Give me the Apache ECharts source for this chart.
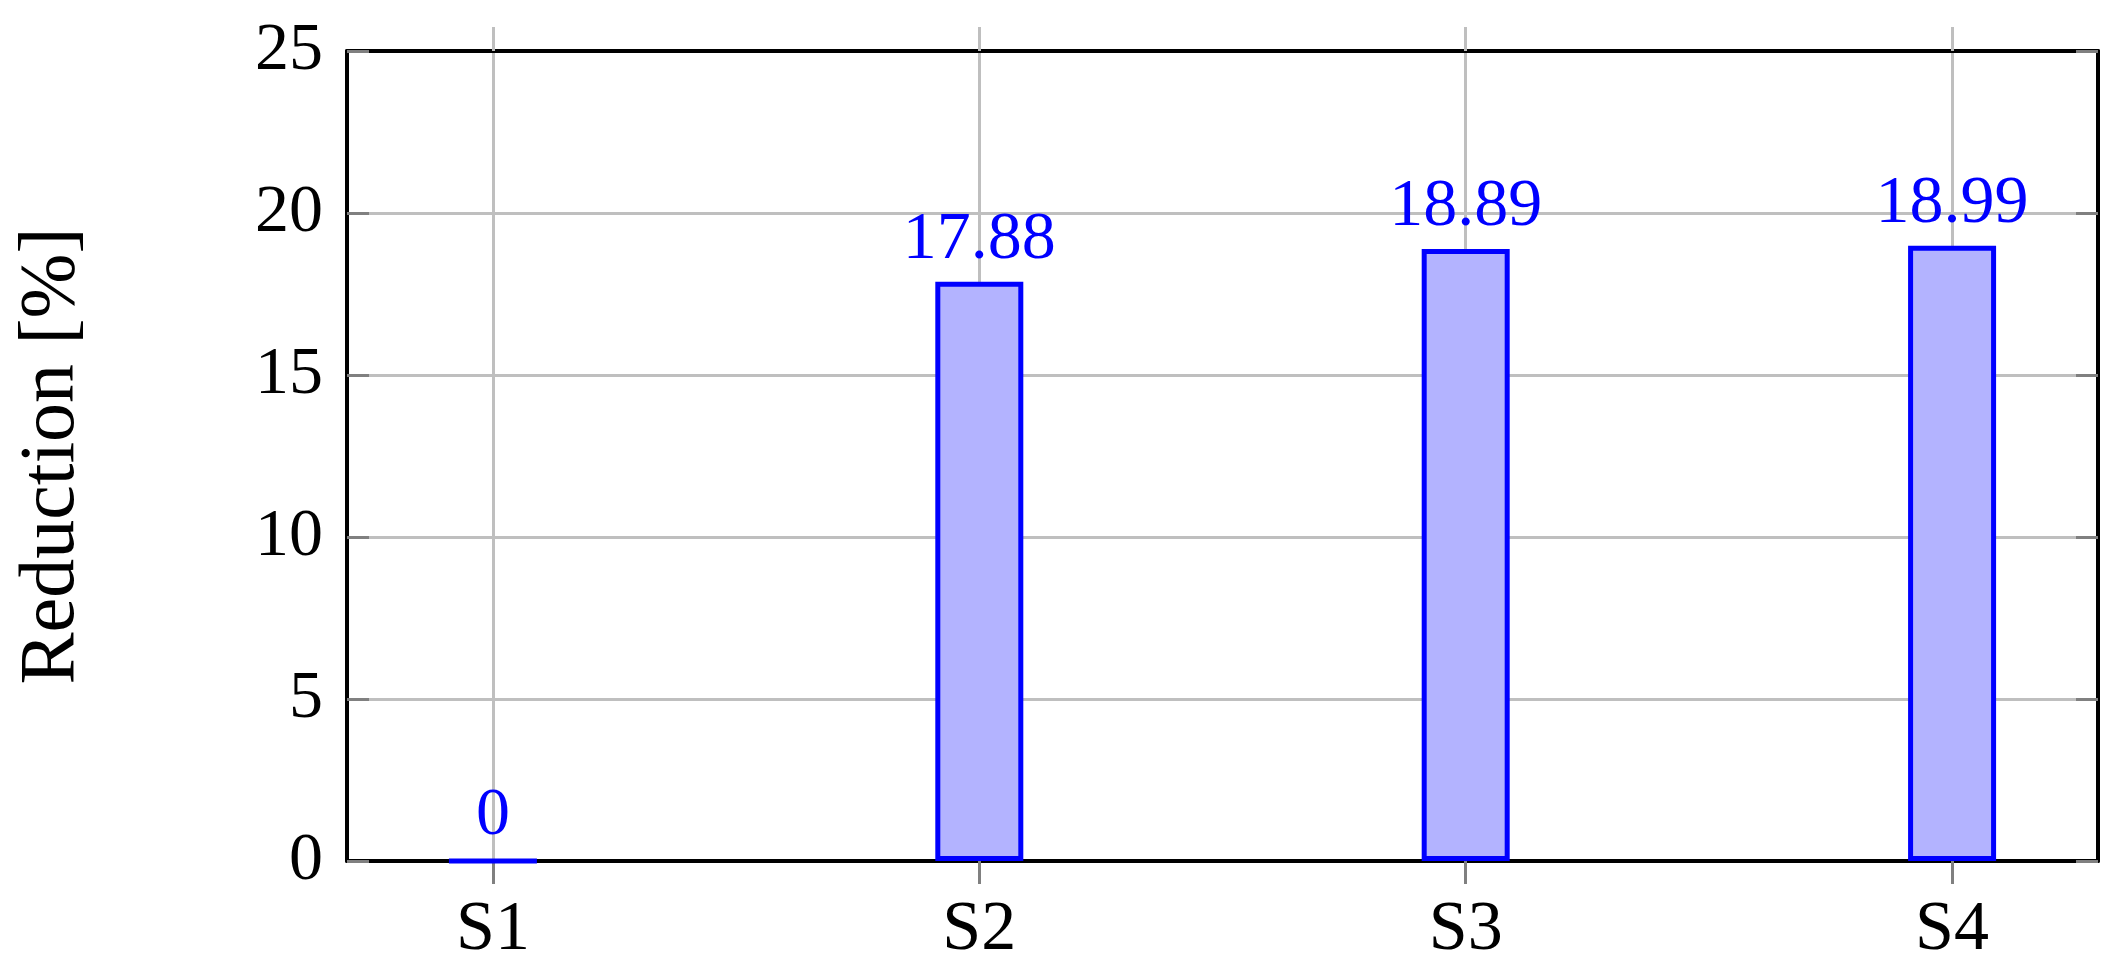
<!DOCTYPE html>
<html><head><meta charset="utf-8">
<script src="https://cdn.jsdelivr.net/npm/echarts@6/dist/echarts.min.js"></script>
<style>html,body{margin:0;padding:0;background:#fff}#c{width:2115px;height:978px}</style>
</head><body><div id="c"></div>
<script>
const categories = ['S1', 'S2', 'S3', 'S4'];
const values = [0, 17.88, 18.89, 18.99];
const yMin = 0, yMax = 25, yStep = 5;
const yName = 'Reduction [%]';

const FONT = 'Liberation Serif';
const positions = categories.map((c, i) => i);
const chart = echarts.init(document.getElementById('c'), null, {renderer: 'canvas'});
const gridColor = '#bfbfbf';
const tickColor = '#808080';
chart.setOption({
  animation: false,
  backgroundColor: '#ffffff',
  grid: {left: 347, right: 17, top: 51, bottom: 117, containLabel: false},
  xAxis: [{
    type: 'value', position: 'bottom', min: -0.3, max: 3.3,
    axisLine: {show: true, onZero: false, lineStyle: {color: '#000', width: 4}},
    axisTick: {show: true, customValues: positions, inside: false, length: 23, lineStyle: {color: tickColor, width: 3}},
    axisLabel: {show: true, customValues: positions, formatter: v => categories[Math.round(v)] || '',
      fontFamily: FONT, fontSize: 70, color: '#000', margin: 35},
    splitLine: {show: true, lineStyle: {color: gridColor, width: 3}}
  }, {
    type: 'value', position: 'top', min: -0.3, max: 3.3,
    axisLine: {show: true, onZero: false, lineStyle: {color: '#000', width: 4}},
    axisTick: {show: true, customValues: positions, inside: false, length: 24, lineStyle: {color: gridColor, width: 3}},
    axisLabel: {show: false},
    splitLine: {show: false}
  }],
  yAxis: [{
    type: 'value', position: 'left', min: yMin, max: yMax, interval: yStep,
    name: yName, nameLocation: 'middle', nameGap: 255, nameRotate: 90,
    nameTextStyle: {fontFamily: FONT, fontSize: 78, color: '#000'},
    axisLine: {show: true, onZero: false, lineStyle: {color: '#000', width: 4}},
    axisTick: {show: true, inside: true, length: 22, lineStyle: {color: tickColor, width: 3}},
    axisLabel: {fontFamily: FONT, fontSize: 68, color: '#000', margin: 24},
    splitLine: {show: true, lineStyle: {color: gridColor, width: 3}}
  }, {
    type: 'value', position: 'right', min: yMin, max: yMax, interval: yStep,
    axisLine: {show: true, onZero: false, lineStyle: {color: '#000', width: 4}},
    axisTick: {show: true, inside: true, length: 22, lineStyle: {color: tickColor, width: 3}},
    axisLabel: {show: false},
    splitLine: {show: false}
  }],
  series: [{
    type: 'bar', xAxisIndex: 0, yAxisIndex: 0,
    data: categories.map((c, i) => [i, values[i]]),
    barWidth: 88,
    itemStyle: {color: '#b3b3ff', borderColor: '#0000ff', borderWidth: 5},
    label: {show: true, position: 'top', distance: 8, color: '#0000ff', fontFamily: FONT, fontSize: 68,
      formatter: p => String(p.value[1])}
  }]
});
</script>
</body></html>
